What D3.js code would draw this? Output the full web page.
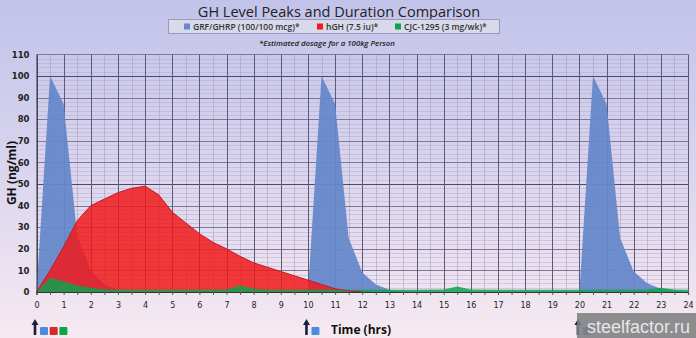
<!DOCTYPE html>
<html><head><meta charset="utf-8">
<script src="https://cdnjs.cloudflare.com/ajax/libs/d3/7.8.5/d3.min.js"></script>
<style>html,body{margin:0;padding:0;overflow:hidden;}svg{display:block;}</style>
</head><body><div id="chart"></div>
<script>
// ---- data ----
const seriesNames = ["GRF/GHRP (100/100 mcg)*", "hGH (7.5 iu)*", "CJC-1295 (3 mg/wk)*"];
const seriesColors = ["#6688c9", "#f01a1a", "#0ea24e"];
const grfHours = [0,0.5,1,1.5,2,2.5,3,3.5,10,10.5,11,11.5,12,12.5,13,13.5,20,20.5,21,21.5,22,22.5,23,23.5,24];
const grfValues = [0,100,87,26,10,3.5,1,0,0,100,87,25,9,3.5,1,0,0,100,87,25,9.5,4,1.5,0.5,0];
const hghHours = [0,0.5,1,1.5,2,2.5,3,3.5,4,4.5,5,5.5,6,6.5,7,7.5,8,8.5,9,9.5,10,10.5,11,11.5,12];
const hghValues = [0,10,21,33,40,43,46,48,49,45,37,32,27,23,20,16.5,13.5,11.5,9.5,7.5,5.5,3.5,1.5,0.5,0];
const cjcHours = [0,0.5,1,1.5,2,2.5,3,4,5,6,7,7.5,8,8.5,9,10,11,12,13,14,15,15.5,16,17,18,19,20,21,22,22.5,23,23.5,24];
const cjcValues = [0,6.5,5,3,2,1.2,1,1,1,1,1.2,3,1.5,1,1,1,1,1,1,1,1.2,2.5,1.2,1,1,1,1,1,1,1.2,2,1.2,1];
const xTicks = d3.range(0, 25, 1);
const yTicks = [0,10,20,30,40,50,60,70,80,90,100,110];
const title = "GH Level Peaks and Duration Comparison";
const footnote = "*Estimated dosage for a 100kg Person";
const yLabel = "GH (ng/ml)";
const xLabel = "Time (hrs)";
const doseMarks = [{h:0, s:[0,1,2]}, {h:10, s:[0]}, {h:20, s:[0]}];
const watermark = "steelfactor.ru";

const W = 696, H = 338;
const svg = d3.select("#chart").append("svg").attr("width", W).attr("height", H);
const defs = svg.append("defs");
const bg = defs.append("linearGradient").attr("id","bg").attr("x1",0).attr("y1",0).attr("x2",0).attr("y2",1);
bg.append("stop").attr("offset","0%").attr("stop-color","#c2c3ea");
bg.append("stop").attr("offset","45%").attr("stop-color","#d7d3ee");
bg.append("stop").attr("offset","100%").attr("stop-color","#f6eaf1");
svg.append("rect").attr("width",W).attr("height",H).attr("fill","url(#bg)");

const x = d3.scaleLinear().domain([0,24]).range([36.5, 688]);
const y = d3.scaleLinear().domain([0,110]).range([292, 54.4]);

// grid
const g = svg.append("g");
g.selectAll(".hmin").data(d3.range(0,111,2)).join("line")
  .attr("x1",x(0)).attr("x2",x(24)).attr("y1",d=>Math.round(y(d))+0.5).attr("y2",d=>Math.round(y(d))+0.5)
  .attr("stroke","#b7a3c4").attr("stroke-width",1).attr("opacity",0.45);
g.selectAll(".vmin").data(d3.range(0.5,24,1)).join("line")
  .attr("x1",d=>Math.round(x(d))+0.5).attr("x2",d=>Math.round(x(d))+0.5).attr("y1",y(110)).attr("y2",y(0))
  .attr("stroke","#a49cc0").attr("stroke-width",1).attr("opacity",0.55);
g.selectAll(".hmaj").data(yTicks).join("line")
  .attr("x1",x(0)).attr("x2",x(24)).attr("y1",d=>Math.round(y(d))+0.5).attr("y2",d=>Math.round(y(d))+0.5)
  .attr("stroke",d=>d%50===0?"#4a4a68":"#7c7896").attr("stroke-width",1);
g.selectAll(".vmaj").data(xTicks).join("line")
  .attr("x1",d=>Math.round(x(d))+0.5).attr("x2",d=>Math.round(x(d))+0.5).attr("y1",y(110)).attr("y2",y(0))
  .attr("stroke","#5c5a7a").attr("stroke-width",1);

// areas
const area = d3.area().x(d=>x(d[0])).y0(y(0)).y1(d=>y(d[1]));
const line = d3.line().x(d=>x(d[0])).y(d=>y(d[1]));
const series = [
  d3.zip(grfHours, grfValues),
  d3.zip(hghHours, hghValues),
  d3.zip(cjcHours, cjcValues)
];
const ops = [0.95, 0.85, 0.85];
series.forEach((s,i)=>{
  svg.append("path").datum(s).attr("d",area).attr("fill",seriesColors[i]).attr("fill-opacity",ops[i]);
});
svg.append("path").datum(series[1]).attr("d",line).attr("fill","none").attr("stroke","#c81a2a").attr("stroke-width",1);

// axes
const xa = svg.append("g").attr("transform",`translate(0,${y(0)})`)
  .call(d3.axisBottom(x).tickValues(d3.range(0,24.01,0.5)).tickSize(3).tickFormat(d=>Number.isInteger(d)?d:""));
xa.select(".domain").attr("stroke","#333").attr("stroke-width",1.2);
xa.selectAll(".tick line").attr("stroke","#555");
xa.selectAll("text").attr("font-family","DejaVu Sans").attr("font-size",8).attr("fill","#222").attr("dy","1.2em");
const ya = svg.append("g").attr("transform",`translate(${x(0)},0)`)
  .call(d3.axisLeft(y).tickValues(yTicks).tickSize(0).tickPadding(7));
ya.select(".domain").attr("stroke","#333");
ya.selectAll("text").attr("font-family","DejaVu Sans").attr("font-size",8.5).attr("font-weight","bold").attr("fill","#222");

// title
svg.append("text").attr("x",339).attr("y",17).attr("text-anchor","middle")
  .attr("font-family","Open Sans").attr("font-size",14.5).attr("fill","#222").text(title);

// legend
svg.append("rect").attr("x",168.5).attr("y",19.5).attr("width",331).attr("height",14)
  .attr("fill","#d9d9ec").attr("stroke","#9a9ab8");
const legX = [184, 317, 395];
seriesNames.forEach((n,i)=>{
  svg.append("rect").attr("x",legX[i]).attr("y",23.5).attr("width",6).attr("height",6).attr("fill",seriesColors[i]);
  svg.append("text").attr("x",legX[i]+9).attr("y",30).attr("font-family","Open Sans").attr("font-size",8.5)
    .attr("font-weight",600).attr("fill","#333").text(n);
});
svg.append("text").attr("x",327).attr("y",45.5).attr("text-anchor","middle").attr("font-family","Open Sans")
  .attr("font-style","italic").attr("font-weight",600).attr("font-size",7.8).attr("fill","#222").text(footnote);

// axis labels
svg.append("text").attr("transform","translate(16,173) rotate(-90)").attr("text-anchor","middle")
  .attr("font-family","Open Sans").attr("font-weight","bold").attr("font-size",12).attr("fill","#111").text(yLabel);
svg.append("text").attr("x",331).attr("y",334).attr("font-family","Open Sans").attr("font-weight","bold")
  .attr("font-size",12).attr("fill","#111").text(xLabel);

// dose markers
const sqCols = ["#4b8ce0", "#d42a2a", "#12a344"];
doseMarks.forEach(m=>{
  const ax = x(m.h) - 1.5;
  svg.append("path").attr("d",`M${ax-3.5},${325} L${ax},${319} L${ax+3.5},${325} Z`).attr("fill","#15213f");
  svg.append("rect").attr("x",ax-1.3).attr("y",324).attr("width",2.6).attr("height",11).attr("fill","#15213f");
  m.s.forEach((s,j)=>{
    svg.append("rect").attr("x",ax+5+j*9.7).attr("y",327).attr("width",8).attr("height",8).attr("rx",1).attr("fill",sqCols[s]);
  });
});

// watermark
svg.append("rect").attr("x",577).attr("y",313).attr("width",119).attr("height",25).attr("fill","#7e7e80").attr("opacity",0.88);
svg.append("text").attr("x",587).attr("y",333).attr("font-family","Liberation Sans").attr("font-size",18)
  .attr("fill","#e6e6e8").text(watermark);
</script></body></html>
